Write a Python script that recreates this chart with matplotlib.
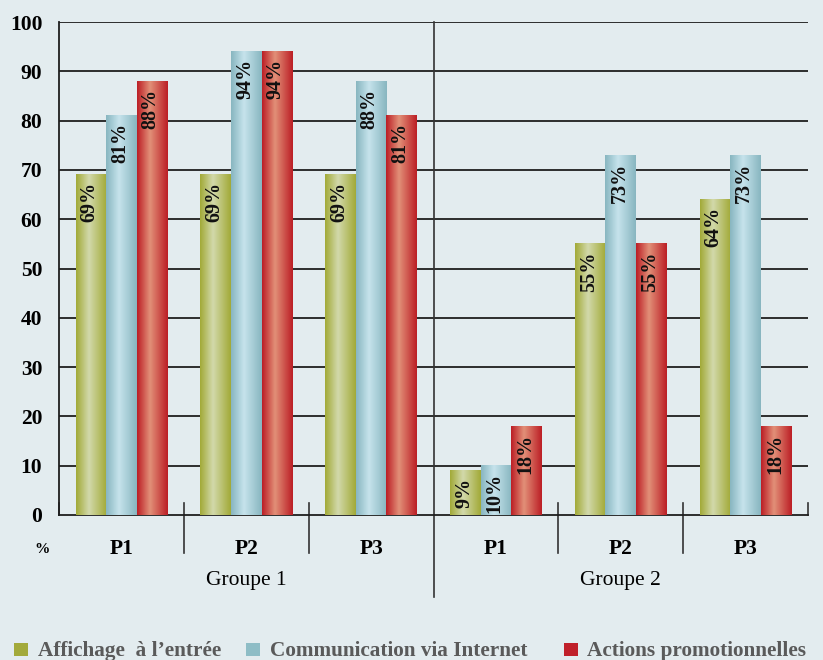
import numpy as np
import matplotlib.pyplot as plt
from matplotlib.colors import LinearSegmentedColormap
from matplotlib.patches import Rectangle

# periods and groups
periods = ["P1", "P2", "P3", "P1", "P2", "P3"]
groups = ["Groupe 1", "Groupe 2"]
series = ["Affichage  à l’entrée", "Communication via Internet", "Actions promotionnelles"]

# percentages per series, one value per period
affichage = [69, 69, 69, 9, 55, 64]
internet = [81, 94, 88, 10, 73, 73]
actions = [88, 94, 81, 18, 55, 18]

# edge / highlight colours for the shaded bars
shades = [("#a2aa38", "#d2d9ab"), ("#88b6c0", "#c6e3ec"), ("#bc1f26", "#e29078")]
solid = ["#a3aa3b", "#8ebdc6", "#c0202a"]

bg = "#e3ecef"
plt.rcParams['font.family'] = ['Liberation Serif', 'DejaVu Serif']

fig = plt.figure(figsize=(8.23, 6.6), dpi=100, facecolor=bg)
ax = fig.add_axes([59 / 823, 1 - 515 / 660, (808 - 59) / 823, (515 - 22) / 660])
ax.set_facecolor(bg)

for v in range(10, 101, 10):
    ax.axhline(v, color="#1e1e1e", lw=1.3, zorder=1)

x = np.arange(len(periods))
w = 0.245
grad = np.linspace(0, 1, 64).reshape(1, -1)
for i, vals in enumerate([affichage, internet, actions]):
    dark, light = shades[i]
    cmap = LinearSegmentedColormap.from_list(f"s{i}", [(0, dark), (0.42, light), (1, dark)])
    for xi, v in zip(x, vals):
        cx = xi + (i - 1) * w
        ax.imshow(grad, cmap=cmap, extent=[cx - w / 2, cx + w / 2, 0, v],
                  aspect='auto', zorder=3, interpolation='bilinear')
        ax.text(cx - 0.01, v - 1.5, f"{v}%", rotation=90, ha='center', va='top',
                fontsize=14.5, fontweight='bold', color="#111111", zorder=4)

ax.set_xlim(-0.5, 5.5)
ax.set_ylim(0, 100)

for s in ["top", "right"]:
    ax.spines[s].set_visible(False)
for s in ["left", "bottom"]:
    ax.spines[s].set_color("#1e1e1e")
    ax.spines[s].set_linewidth(1.3)

ax.set_yticks(range(0, 101, 10))
ax.set_yticklabels([str(v) for v in range(0, 101, 10)], fontsize=15.5, fontweight='bold')
ax.tick_params(axis='y', length=0, pad=12)
ax.set_xticks([])

# separators between periods and between groups
for xs in [0.5, 1.5, 3.5, 4.5]:
    ax.plot([xs, xs], [2.4, -7.7], color="#333333", lw=1.2, clip_on=False)
ax.plot([2.5, 2.5], [100, -16.6], color="#333333", lw=1.2, clip_on=False)
ax.plot([5.5, 5.5], [2.4, 0], color="#333333", lw=1.2, clip_on=False)
ax.plot([-0.5, -0.5], [2.4, 0], color="#333333", lw=1.2, clip_on=False)

for xi, p in zip(x, periods):
    ax.text(xi, -6.9, p, ha='center', va='center', fontsize=15.5, fontweight='bold',
            clip_on=False)
for gi, g in enumerate(groups):
    ax.text(1 + 3 * gi, -13.2, g, ha='center', va='center', fontsize=15.5, clip_on=False)
ax.text(-0.64, -6.9, "%", ha='center', va='center', fontsize=11, fontweight='bold',
        clip_on=False)

# legend row along the bottom edge
W, H = 823, 660
box_x = [14, 246, 564]
text_x = [38, 270, 587]
for bx, tx, c, label in zip(box_x, text_x, solid, series):
    fig.patches.append(Rectangle((bx / W, 1 - 656 / H), 14 / W, 13 / H,
                                 transform=fig.transFigure, facecolor=c,
                                 edgecolor='none'))
    fig.text(tx / W, 1 - 656 / H, label, ha='left', va='baseline', fontsize=15.3,
             fontweight='bold', color="#5a5a5a")

fig.savefig("out.png", dpi=100, facecolor=bg)
